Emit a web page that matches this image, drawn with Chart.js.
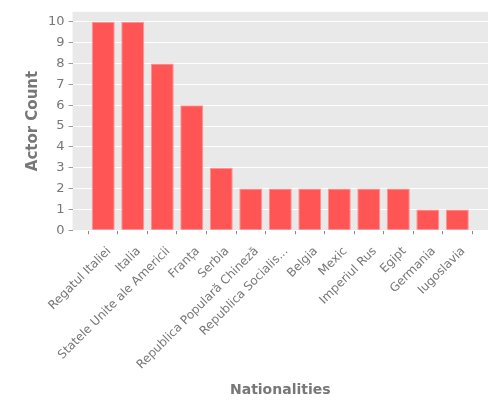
<!DOCTYPE html>
<html>
<head>
<meta charset="utf-8">
<script src="https://cdn.jsdelivr.net/npm/chart.js@4/dist/chart.umd.min.js"></script>
<style>
  html, body { margin: 0; padding: 0; background: #fff; }
  #wrap { width: 500px; height: 400px; }
</style>
</head>
<body>
<div id="wrap"><canvas id="chart"></canvas></div>
<script>
const nationalities = [
  'Regatul Italiei', 'Italia', 'Statele Unite ale Americii', 'Franța', 'Serbia',
  'Republica Populară Chineză', 'Republica Socialis...', 'Belgia', 'Mexic',
  'Imperiul Rus', 'Egipt', 'Germania', 'Iugoslavia'
];
const actorCounts = [10, 10, 8, 6, 3, 2, 2, 2, 2, 2, 2, 1, 1];
const yTicks = [0, 1, 2, 3, 4, 5, 6, 7, 8, 9, 10];

const textGray = '#777';
const font = 'DejaVu Sans';

// gray panel behind the plot, ggplot style
const panelBg = {
  id: 'panelBg',
  beforeDraw(chart) {
    const { ctx, chartArea: a } = chart;
    ctx.save();
    ctx.fillStyle = '#e9e9e9';
    ctx.fillRect(a.left, a.top, a.right - a.left, a.bottom - a.top);
    ctx.restore();
  }
};

new Chart(document.getElementById('chart'), {
  type: 'bar',
  data: {
    datasets: [{
      data: actorCounts.map((v, i) => ({ x: i, y: v })),
      backgroundColor: 'rgb(255, 85, 85)',
      borderColor: 'rgba(255, 140, 140, 0.9)',
      borderWidth: 1,
      barPercentage: 0.78,
      categoryPercentage: 1
    }]
  },
  options: {
    responsive: true,
    maintainAspectRatio: false,
    animation: false,
    layout: { padding: { top: 8, right: 12, left: 24, bottom: 1 } },
    plugins: { legend: { display: false }, tooltip: { enabled: false } },
    scales: {
      x: {
        type: 'linear',
        min: -1.04,
        max: 13.04,
        offset: false,
        afterBuildTicks: (axis) => {
          axis.ticks = nationalities.map((_, i) => ({ value: i }));
        },
        ticks: {
          autoSkip: false,
          maxRotation: 45,
          minRotation: 45,
          color: textGray,
          padding: 10,
          labelOffset: 6,
          font: { family: font, size: 12 },
          callback: (v) => nationalities[v] ?? ''
        },
        grid: { drawOnChartArea: false, color: '#888', tickLength: 4, drawTicks: true },
        border: { display: false },
        title: {
          display: true,
          text: 'Nationalities',
          color: textGray,
          font: { family: font, size: 14, weight: 'bold' },
          padding: { top: 0, bottom: 0 }
        }
      },
      y: {
        min: 0,
        max: 10.48,
        afterBuildTicks: (axis) => {
          axis.ticks = yTicks.map(v => ({ value: v }));
        },
        ticks: {
          color: textGray,
          padding: 4,
          font: { family: font, size: 13 }
        },
        grid: { color: '#ffffff', lineWidth: 1, tickColor: '#999', tickLength: 4 },
        border: { display: false },
        title: {
          display: true,
          text: 'Actor Count',
          color: textGray,
          font: { family: font, size: 15, weight: 'bold' },
          padding: { top: 0, bottom: 2 }
        }
      }
    }
  },
  plugins: [panelBg]
});
</script>
</body>
</html>
